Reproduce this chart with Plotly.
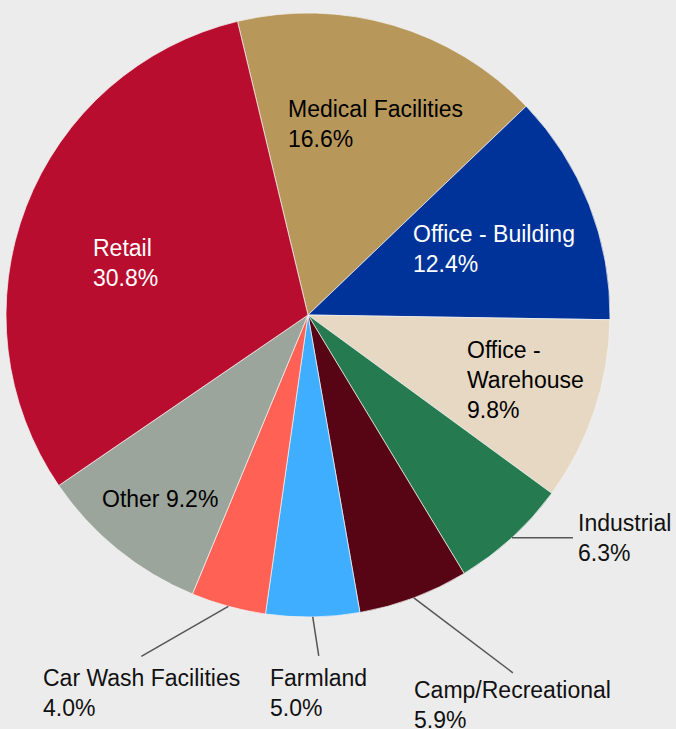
import plotly.graph_objects as go
import numpy as np

# Slice data (clockwise from the Medical/Retail boundary)
labels = ['Medical Facilities', 'Office - Building', 'Office - Warehouse', 'Industrial',
          'Camp/Recreational', 'Farmland', 'Car Wash Facilities', 'Other', 'Retail']
shares = [16.6, 12.4, 9.8, 6.3, 5.9, 5.0, 4.0, 9.2, 30.8]
label_text = ['Medical Facilities<br>16.6%', 'Office - Building<br>12.4%',
              'Office -<br>Warehouse<br>9.8%', 'Industrial<br>6.3%',
              'Camp/Recreational<br>5.9%', 'Farmland<br>5.0%',
              'Car Wash Facilities<br>4.0%', 'Other 9.2%', 'Retail<br>30.8%']
colors = ['#b8975b', '#003399', '#e6d8c3', '#267a50', '#570515',
          '#40aeff', '#ff6155', '#9ca59b', '#b90d30']

W, H = 676, 729
ROTATION = -13.5
R = 302  # pie radius in px
dom_x = [6 / W, 610 / W]
dom_y = [(H - 617) / H, (H - 13) / H]
cx = (dom_x[0] + dom_x[1]) / 2
cy = (dom_y[0] + dom_y[1]) / 2

fig = go.Figure(go.Pie(
    labels=labels,
    values=shares,
    sort=False,
    direction='clockwise',
    rotation=ROTATION,
    marker=dict(colors=colors, line=dict(color='#f4f4f4', width=0.7)),
    textinfo='none',
    hoverinfo='label+percent',
    showlegend=False,
    domain=dict(x=dom_x, y=dom_y),
))

# label placement: inside -> (radius fraction, angle nudge in deg)
inside = {'Medical Facilities': (0.675, 3.1), 'Office - Building': (0.655, 1.6),
          'Office - Warehouse': (0.75, -2.1), 'Other': (0.78, 0.0), 'Retail': (0.628, -4.9)}
# outside -> leader line offset (px), anchors, gap to text
outside = {'Industrial': (61, 0, 'left', 'middle', 3),
           'Camp/Recreational': (99, 75, 'center', 'top', 2),
           'Farmland': (6, 39, 'center', 'top', 7),
           'Car Wash Facilities': (-87, 50, 'center', 'top', 7)}
white_text = ['Office - Building', 'Retail']

total = sum(shares)
cum = np.cumsum([0] + shares[:-1])
for lab, txt, v, c0 in zip(labels, label_text, shares, cum):
    mid = ROTATION + 360 * (c0 + v / 2) / total
    if lab in inside:
        f, nudge = inside[lab]
        theta = np.radians(mid + nudge)
        fig.add_annotation(
            x=cx + f * R * np.sin(theta) / W, y=cy + f * R * np.cos(theta) / H,
            xref='paper', yref='paper', text=txt, showarrow=False,
            align='left', xanchor='center', yanchor='middle', yshift=-1,
            font=dict(color='white' if lab in white_text else 'black'),
        )
    else:
        dx, dy, xa, ya, gap = outside[lab]
        theta = np.radians(mid)
        x0, y0 = cx + R * np.sin(theta) / W, cy + R * np.cos(theta) / H
        x1, y1 = x0 + dx / W, y0 - dy / H
        fig.add_shape(type='line', xref='paper', yref='paper',
                      x0=x0, y0=y0, x1=x1, y1=y1,
                      line=dict(color='#555555', width=1.5))
        fig.add_annotation(
            x=x1 + (gap / W if xa == 'left' else 0), y=y1 - (gap / H if ya == 'top' else 0),
            xref='paper', yref='paper', text=txt, showarrow=False,
            align='left', xanchor=xa, yanchor=ya,
            font=dict(color='#111111'),
        )

fig.update_layout(
    width=W, height=H,
    margin=dict(l=0, r=0, t=0, b=0),
    paper_bgcolor='#ececec',
    plot_bgcolor='#ececec',
    font=dict(family='Liberation Sans, Arial, sans-serif', size=23, color='black'),
)

fig.write_html('out.html', config={'displayModeBar': False},
               post_script="document.body.style.margin='0';"
                           "document.body.style.background='#ececec';")
